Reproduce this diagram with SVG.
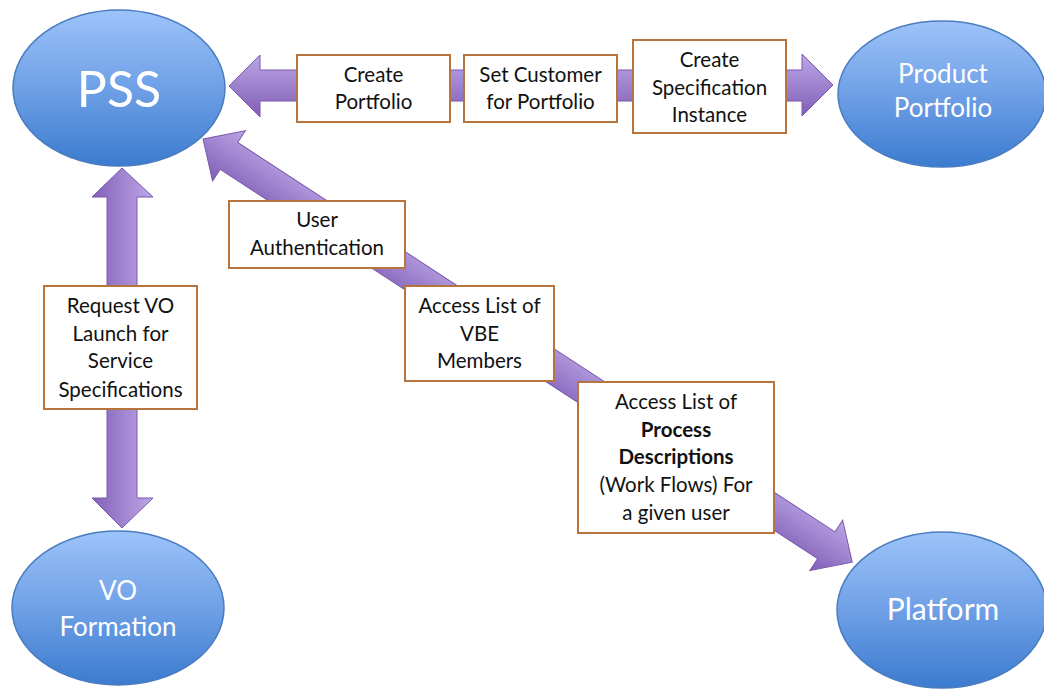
<svg xmlns="http://www.w3.org/2000/svg" width="1044" height="689" viewBox="0 0 1044 689">
<defs>
<linearGradient id="blue" x1="0" y1="0" x2="0" y2="1">
<stop offset="0" stop-color="#9DC3F9"/>
<stop offset="0.5" stop-color="#6FA0E6"/>
<stop offset="1" stop-color="#3B7BCF"/>
</linearGradient>
<linearGradient id="purpH" x1="0" y1="0" x2="0" y2="1">
<stop offset="0" stop-color="#BCA6E6"/>
<stop offset="1" stop-color="#805EB6"/>
</linearGradient>
<linearGradient id="purpV" x1="0" y1="0" x2="1" y2="0">
<stop offset="0" stop-color="#8360B8"/>
<stop offset="1" stop-color="#BDA7E7"/>
</linearGradient>
</defs>
<style>
.node ellipse{fill:url(#blue);stroke:#4A7CC0;stroke-width:1.5}
.nt{font-family:Lato,"Liberation Sans",sans-serif;fill:#FFFFFF;text-anchor:middle}
.arr{stroke:#7A58AC;stroke-width:1}
.box rect{fill:#FFFFFF;stroke:#B8743D;stroke-width:2}
.bt{font-family:Lato,"Liberation Sans",sans-serif;font-size:20.5px;fill:#111111;text-anchor:middle}
.b{font-weight:bold}
</style>

<g id="connectors">
<polygon class="arr" fill="url(#purpH)" points="229,86 260,55 260,70 802,70 802,54 833,85 802,116 802,101 260,101 260,117"/>
<polygon class="arr" fill="url(#purpV)" points="122,168 153,197 137,197 137,498 153,498 122,528 92,498 107,498 107,197 92,197"/>
<g transform="translate(203,139) rotate(33.1)">
<polygon class="arr" fill="url(#purpH)" points="0,0 31,-30 31,-16 744,-16 744,-30 775,0 744,30 744,16 31,16 31,30"/>
</g>
</g>

<g id="pss" class="node">
<ellipse cx="119" cy="88" rx="106" ry="78"/>
<text class="nt" x="119" y="107" font-size="50">PSS</text>
</g>
<g id="product-portfolio" class="node">
<ellipse cx="942" cy="94" rx="104" ry="73"/>
<text class="nt" x="943" y="83" font-size="26">Product</text>
<text class="nt" x="943" y="117" font-size="26">Portfolio</text>
</g>
<g id="vo-formation" class="node">
<ellipse cx="118" cy="608" rx="106" ry="77"/>
<text class="nt" x="118" y="600" font-size="26">VO</text>
<text class="nt" x="118" y="636" font-size="26">Formation</text>
</g>
<g id="platform" class="node">
<ellipse cx="942" cy="610" rx="105" ry="78"/>
<text class="nt" x="943" y="620" font-size="30">Platform</text>
</g>

<g id="box-create-portfolio" class="box">
<rect x="297" y="55" width="153" height="67"/>
<text class="bt" x="373.5" y="82">Create</text>
<text class="bt" x="373.5" y="109">Portfolio</text>
</g>
<g id="box-set-customer" class="box">
<rect x="464" y="55" width="153" height="67"/>
<text class="bt" x="540.5" y="82">Set Customer</text>
<text class="bt" x="540.5" y="109">for Portfolio</text>
</g>
<g id="box-create-spec" class="box">
<rect x="633" y="40" width="153" height="93"/>
<text class="bt" x="709.5" y="67">Create</text>
<text class="bt" x="709.5" y="95">Specification</text>
<text class="bt" x="709.5" y="122">Instance</text>
</g>
<g id="box-user-auth" class="box">
<rect x="229" y="201" width="176" height="67"/>
<text class="bt" x="317" y="227">User</text>
<text class="bt" x="317" y="255">Authentication</text>
</g>
<g id="box-vbe" class="box">
<rect x="405" y="286" width="149" height="95"/>
<text class="bt" x="479.5" y="313">Access List of</text>
<text class="bt" x="479.5" y="341">VBE</text>
<text class="bt" x="479.5" y="368">Members</text>
</g>
<g id="box-process" class="box">
<rect x="578" y="382" width="196" height="151"/>
<text class="bt" x="676" y="409">Access List of</text>
<text class="bt b" x="676" y="437">Process</text>
<text class="bt b" x="676" y="464">Descriptions</text>
<text class="bt" x="676" y="492">(Work Flows) For</text>
<text class="bt" x="676" y="520">a given user</text>
</g>
<g id="box-request-vo" class="box">
<rect x="44" y="286" width="153" height="123"/>
<text class="bt" x="120.5" y="313">Request VO</text>
<text class="bt" x="120.5" y="341">Launch for</text>
<text class="bt" x="120.5" y="368">Service</text>
<text class="bt" x="120.5" y="397">Specifications</text>
</g>
</svg>
